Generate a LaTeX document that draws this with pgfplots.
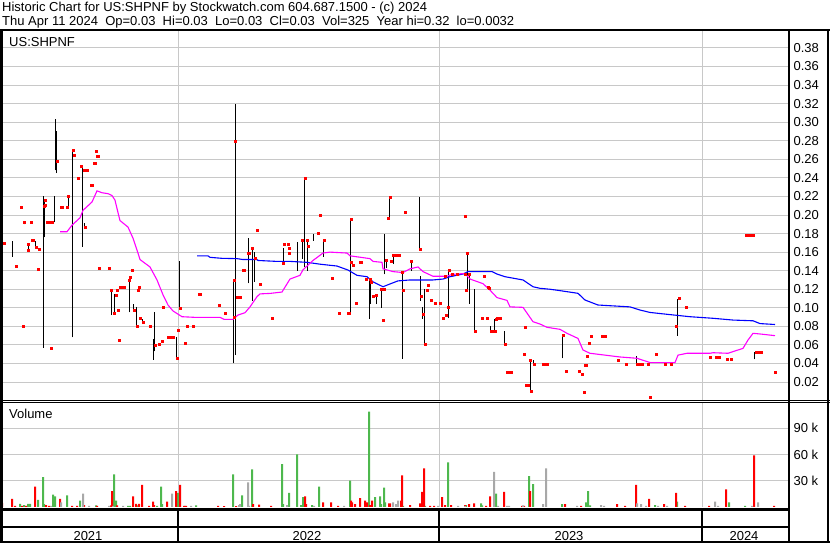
\documentclass[border=0pt]{standalone}
\usepackage{pgfplots}
\pgfplotsset{compat=1.18}
\usepackage{fontspec}
\setmainfont{Liberation Sans}
\definecolor{gridgray}{RGB}{200,200,200}
\definecolor{volgreen}{RGB}{78,184,78}
\definecolor{volgray}{RGB}{168,168,168}
\definecolor{mablue}{RGB}{0,0,255}
\definecolor{mamag}{RGB}{255,0,255}
\begin{document}
\begin{tikzpicture}
\useasboundingbox (0pt,0pt) rectangle (830pt,-543pt);
\pgfplotsset{
  swbase/.style={
    scale only axis, anchor=south west,
    xmin=3, xmax=789,
    axis line style={draw=none},
    tick style={draw=none},
    major tick length=0pt,
    xtick={178,439,702}, xticklabels={},
    grid=major, grid style={color=gridgray, line width=1pt},
    yticklabel pos=right,
    yticklabel style={font=\fontsize{13}{13}\selectfont, anchor=west, xshift=1pt},
    clip=true,
  }
}
% ---------------- price panel ----------------
\begin{axis}[swbase, at={(3pt,-400.6pt)}, width=786pt, height=371.2pt,
  ymin=0, ymax=0.40,
  ytick={0.02,0.04,0.06,0.08,0.10,0.12,0.14,0.16,0.18,0.20,0.22,0.24,0.26,0.28,0.30,0.32,0.34,0.36,0.38},
  yticklabels={0.02,0.04,0.06,0.08,0.10,0.12,0.14,0.16,0.18,0.20,0.22,0.24,0.26,0.28,0.30,0.32,0.34,0.36,0.38}]
% high-low bars
\addplot[black, line width=1pt, unbounded coords=jump] coordinates {
(12,0.155) (12,0.172) (12,nan)
(24,0.190) (24,0.194) (24,nan)
(28,0.162) (28,0.168) (28,nan)
(35,0.164) (35,0.172) (35,nan)
(43,0.057) (43,0.220) (43,nan)
(44,0.176) (44,0.216) (44,nan)
(54,0.192) (54,0.220) (54,nan)
(55,0.248) (55,0.303) (55,nan)
(56,0.245) (56,0.290) (56,nan)
(68,0.208) (68,0.220) (68,nan)
(72,0.068) (72,0.270) (72,nan)
(82,0.166) (82,0.253) (82,nan)
(84,0.187) (84,0.191) (84,nan)
(111,0.092) (111,0.117) (111,nan)
(114,0.094) (114,0.115) (114,nan)
(129,0.095) (129,0.130) (129,nan)
(133,0.0966) (133,0.104) (133,nan)
(136,0.080) (136,0.1005) (136,nan)
(142,0.085) (142,0.088) (142,nan)
(153,0.044) (153,0.066) (153,nan)
(154,0.053) (154,0.095) (154,nan)
(176,0.045) (176,0.069) (176,nan)
(179,0.0976) (179,0.150) (179,nan)
(233,0.040) (233,0.129) (233,nan)
(235,0.049) (235,0.320) (235,nan)
(248,0.1264) (248,0.1755) (248,nan)
(252,0.1077) (252,0.164) (252,nan)
(254,0.128) (254,0.160) (254,nan)
(283,0.148) (283,0.164) (283,nan)
(297,0.140) (297,0.1706) (297,nan)
(302,0.153) (302,0.172) (302,nan)
(304,0.144) (304,0.239) (304,nan)
(307,0.140) (307,0.172) (307,nan)
(313,0.172) (313,0.180) (313,nan)
(323,0.155) (323,0.172) (323,nan)
(350,0.0937) (350,0.195) (350,nan)
(369,0.088) (369,0.131) (369,nan)
(370,0.104) (370,0.131) (370,nan)
(376,0.104) (376,0.114) (376,nan)
(381,0.100) (381,0.120) (381,nan)
(384,0.136) (384,0.180) (384,nan)
(386,0.1426) (386,0.1515) (386,nan)
(389,0.196) (389,0.219) (389,nan)
(393,0.147) (393,0.156) (393,nan)
(402,0.045) (402,0.140) (402,nan)
(411,0.140) (411,0.150) (411,nan)
(419,0.163) (419,0.219) (419,nan)
(420,0.1077) (420,0.134) (420,nan)
(422,0.088) (422,0.101) (422,nan)
(424,0.060) (424,0.120) (424,nan)
(427,0.124) (427,0.126) (427,nan)
(448,0.089) (448,0.140) (448,nan)
(467,0.119) (467,0.158) (467,nan)
(469,0.1044) (469,0.136) (469,nan)
(474,0.074) (474,0.120) (474,nan)
(490,0.074) (490,0.080) (490,nan)
(494,0.074) (494,0.088) (494,nan)
(504,0.060) (504,0.075) (504,nan)
(530,0.0103) (530,0.0437) (530,nan)
(533,0.039) (533,0.044) (533,nan)
(562,0.0456) (562,0.070) (562,nan)
(636,0.039) (636,0.048) (636,nan)
(677,0.070) (677,0.110) (677,nan)
(754,0.0445) (754,0.052) (754,nan)
};
% 200-day style average (blue)
\addplot[mablue, line width=1.1pt, mark=none] coordinates {
(197,0.156) (208,0.156) (210,0.1544) (222,0.1533) (237,0.153) (243,0.152) (257,0.152)
(258,0.151) (277,0.150) (290,0.150) (307,0.149) (320,0.147) (337,0.145) (348,0.1407)
(357,0.135) (367,0.1335) (373,0.128) (383,0.1227) (390,0.1257) (398,0.129) (410,0.130)
(433,0.130) (443,0.131) (450,0.1335) (463,0.1364) (468,0.139) (492,0.139) (497,0.1364)
(505,0.1335) (523,0.130) (533,0.1227) (540,0.121) (550,0.120) (560,0.1185) (578,0.1156)
(585,0.1084) (598,0.103) (630,0.101) (640,0.0976) (650,0.095) (667,0.093) (690,0.0904)
(713,0.0887) (733,0.0868) (753,0.086) (760,0.083) (775,0.082)
};
% shorter average (magenta)
\addplot[mamag, line width=1.1pt, mark=none] coordinates {
(60,0.182) (67,0.182) (72,0.189) (80,0.197) (83,0.205) (92,0.214) (97,0.226) (102,0.224)
(108,0.223) (112,0.221) (115,0.216) (117,0.207) (120,0.194) (128,0.187) (133,0.175)
(138,0.159) (140,0.152) (150,0.144) (157,0.130) (163,0.114) (168,0.103) (173,0.0966)
(182,0.0904) (195,0.0897) (220,0.0897) (224,0.0876) (233,0.0876) (238,0.0922) (245,0.0947)
(250,0.101) (257,0.112) (260,0.115) (270,0.1155) (282,0.117) (290,0.131) (300,0.135)
(303,0.141) (313,0.151) (323,0.159) (330,0.160) (347,0.159) (350,0.156) (370,0.153)
(373,0.150) (382,0.149) (383,0.142) (393,0.139) (403,0.138) (410,0.142) (418,0.144)
(423,0.139) (433,0.134) (447,0.134) (452,0.136) (465,0.137) (470,0.131) (483,0.126)
(490,0.119) (497,0.111) (507,0.108) (510,0.101) (523,0.1005) (533,0.085) (540,0.0825)
(547,0.079) (560,0.0768) (567,0.0725) (578,0.067) (583,0.0545) (590,0.051) (620,0.047)
(637,0.0456) (650,0.041) (675,0.041) (678,0.049) (687,0.051) (710,0.051) (713,0.0516)
(728,0.051) (743,0.0563) (748,0.0653) (753,0.0725) (760,0.0718) (775,0.070)
};
% closing prices (red squares)
\addplot[red, only marks, mark=square*, mark size=1pt, mark options={solid, fill=red, draw=red, line width=0pt}] coordinates {
(2,0.186) (3,0.169) (4,0.169) (16,0.145) (21,0.208) (23,0.080) (24,0.192) (28,0.168)
(28,0.162) (31,0.192) (32,0.172) (33,0.172) (36,0.165) (38,0.141) (39,0.163) (44,0.209)
(45,0.216) (45,0.210) (47,0.192) (50,0.192) (52,0.192) (51,0.056) (57,0.258) (61,0.208)
(62,0.208) (67,0.208) (68,0.220) (73,0.270) (74,0.264) (78,0.239) (81,0.252) (84,0.248)
(87,0.248) (85,0.187) (91,0.232) (92,0.232) (94,0.255) (95,0.255) (96,0.268) (97,0.263)
(98,0.263) (99,0.142) (109,0.142) (111,0.119) (116,0.113) (114,0.094) (117,0.119)
(118,0.097) (119,0.0645) (120,0.122) (121,0.122) (124,0.122) (129,0.129) (130,0.133)
(132,0.140) (134,0.0966) (137,0.080) (138,0.119) (139,0.122) (140,0.088) (143,0.084)
(150,0.080) (155,0.059) (159,0.060) (162,0.0635) (163,0.100) (168,0.068) (170,0.068)
(172,0.068) (173,0.068) (177,0.045) (178,0.076) (180,0.099) (185,0.061) (187,0.080)
(193,0.080) (199,0.114) (200,0.114) (219,0.103) (225,0.0937) (234,0.090) (234,0.129)
(235,0.279) (237,0.111) (240,0.111) (243,0.140) (244,0.140) (248,0.158) (249,0.158)
(252,0.164) (255,0.153) (257,0.183) (260,0.1246) (272,0.088) (283,0.148) (284,0.168)
(288,0.168) (289,0.164) (289,0.159) (302,0.172) (305,0.239) (307,0.172) (308,0.166)
(318,0.180) (320,0.199) (324,0.172) (332,0.132) (339,0.0937) (348,0.0937) (349,0.0937)
(351,0.195) (351,0.1486) (353,0.146) (356,0.1044) (360,0.1486) (361,0.1486) (366,0.130)
(370,0.131) (371,0.127) (373,0.112) (376,0.113) (381,0.1195) (383,0.1195) (384,0.1195)
(383,0.086) (386,0.1515) (390,0.219) (388,0.196) (391,0.150) (393,0.156) (395,0.156)
(396,0.156) (399,0.156) (402,0.138) (403,0.119) (405,0.203) (411,0.150) (420,0.163)
(421,0.112) (423,0.0926) (425,0.060) (427,0.119) (428,0.124) (431,0.1077) (435,0.1044)
(440,0.1044) (443,0.088) (445,0.134) (446,0.092) (448,0.100) (449,0.140) (452,0.1357)
(457,0.1357) (465,0.1357) (465,0.198) (466,0.119) (467,0.158) (469,0.136) (475,0.074)
(484,0.1335) (488,0.122) (489,0.121) (482,0.088) (487,0.088) (491,0.074) (492,0.074)
(493,0.074) (495,0.074) (496,0.087) (497,0.088) (500,0.088) (505,0.060) (507,0.030)
(509,0.030) (511,0.030) (524,0.050) (525,0.079) (526,0.016) (528,0.016) (530,0.0437)
(531,0.0103) (534,0.039) (543,0.039) (545,0.039) (547,0.039) (563,0.070) (566,0.031)
(579,0.031) (582,0.028) (584,0.0085) (585,0.038) (586,0.038) (587,0.048) (589,0.061)
(591,0.069) (602,0.069) (605,0.069) (618,0.0437) (626,0.039) (637,0.039) (639,0.039)
(642,0.039) (648,0.039) (650,0.003) (656,0.050) (665,0.039) (671,0.039) (676,0.080)
(679,0.110) (686,0.100) (710,0.046) (716,0.046) (719,0.046) (727,0.0445) (731,0.0445)
(746,0.178) (748,0.178) (750,0.178) (753,0.178) (756,0.0516) (758,0.0516) (761,0.0516)
(775,0.030)
};
\end{axis}
% ---------------- volume panel ----------------
\begin{axis}[swbase, at={(3pt,-506.8pt)}, width=786pt, height=104.8pt,
  ymin=0, ymax=120,
  ytick={30,60,90}, yticklabels={30 k,60 k,90 k}]
\addplot[ybar, bar width=2pt, bar shift=0pt, fill=volgreen, draw=none] coordinates {
(20,3.4) (24,2) (28,3.4) (30,3.4) (38,8) (43,34) (44,3) (53,14) (55,12) (67,13) (80,7)
(96,1.5) (114,37) (116,7) (128,1) (130,1) (137,1.5) (157,1) (161,23) (162,3) (178,16)
(185,1) (196,1.5) (233,37) (242,13) (252,43) (282,49) (283,3) (289,16) (297,60) (301,2)
(303,11) (312,2) (319,23) (350,30) (369,109) (375,11) (380,12) (381,3) (384,22) (385,5)
(401,1) (403,1) (425,1) (448,51) (466,2) (481,4) (482,1.5) (496,15) (529,35) (533,26)
(562,3) (586,5) (588,18) (590,1.5) (655,2) (677,6) (729,5) (745,1)
};
\addplot[ybar, bar width=2pt, bar shift=0pt, fill=red, draw=none] coordinates {
(2,4.6) (12,9) (15,1) (22,1) (26,1) (35,23) (46,2) (49,1) (60,9) (72,1) (77,1) (84,2)
(97,1) (111,1.5) (112,18) (117,1.5) (133,12) (136,3.4) (139,3.4) (142,25) (149,1) (153,6)
(154,2) (167,6) (176,18) (180,25) (184,1) (186,1) (218,1) (224,0.7) (236,0.7) (253,3)
(259,2.5) (271,1) (305,12) (306,3) (323,5) (331,5) (338,1) (351,7) (352,5) (355,3)
(360,10) (365,7) (367,5) (370,2) (372,7) (389,4) (390,4) (401,7) (402,36) (410,2) (420,4)
(422,17) (424,44) (430,1) (434,1) (442,11) (445,2) (451,2) (465,2) (469,3) (474,4)
(486,1) (490,12) (504,17) (522,1) (524,1) (530,18) (565,3) (581,1) (617,3) (625,1)
(636,25) (649,9) (664,3) (676,16) (685,1) (709,1) (726,20) (754,59) (774,1)
};
\addplot[ybar, bar width=2pt, bar shift=0pt, fill=volgray, draw=none] coordinates {
(51,1) (61,5) (83,15) (89,1) (109,1) (113,1) (123,1) (172,15) (191,1) (239,2) (240,3)
(248,28) (249,1) (287,2) (314,1) (344,1) (393,5) (396,3) (398,7) (438,1) (458,1) (465,1)
(494,40) (498,1) (507,1) (509,1) (523,1.5) (543,3) (546,44) (577,1) (601,2) (604,1)
(637,4) (641,3) (646,1) (658,1) (667,1) (715,6) (718,1) (752,1) (758,5)
};
\end{axis}
% ---------------- frame and labels ----------------
\fill[black] (0pt,-29.5pt) rectangle (3pt,-543pt);
\draw[line width=2pt] (0pt,-30.5pt) -- (830pt,-30.5pt);
\draw[line width=1.2pt] (0pt,-400.4pt) -- (830pt,-400.4pt);
\draw[line width=1.2pt] (0pt,-402.6pt) -- (830pt,-402.6pt);
\draw[line width=2pt] (789pt,-29.5pt) -- (789pt,-543pt);
\draw[line width=2pt] (828pt,-29.5pt) -- (828pt,-543pt);
\draw[line width=2.5pt] (0pt,-509.3pt) -- (789pt,-509.3pt);
\draw[line width=2pt] (0pt,-527pt) -- (789pt,-527pt);
\draw[line width=2pt] (0pt,-542pt) -- (830pt,-542pt);
\foreach \xx in {178,439,702} {\draw[line width=1.3pt] (\xx pt,-509pt) -- (\xx pt,-542pt);}
\node[anchor=base, font=\fontsize{13}{13}\selectfont] at (88pt,-540pt) {2021};
\node[anchor=base, font=\fontsize{13}{13}\selectfont] at (307pt,-540pt) {2022};
\node[anchor=base, font=\fontsize{13}{13}\selectfont] at (569pt,-540pt) {2023};
\node[anchor=base, font=\fontsize{13}{13}\selectfont] at (744pt,-540pt) {2024};
\node[anchor=base west, inner sep=0pt, font=\fontsize{13}{13}\selectfont] at (9pt,-47pt) {US:SHPNF};
\node[anchor=base west, inner sep=0pt, font=\fontsize{13}{13}\selectfont] at (9pt,-418pt) {Volume};
\node[anchor=base west, inner sep=0pt, font=\fontsize{13}{13}\selectfont] at (2pt,-12pt) {Historic Chart for US:SHPNF by Stockwatch.com 604.687.1500 - (c) 2024};
\node[anchor=base west, inner sep=0pt, font=\fontsize{13}{13}\selectfont] at (2pt,-26pt) {Thu Apr 11 2024\ \ Op=0.03\ \ Hi=0.03\ \ Lo=0.03\ \ Cl=0.03\ \ Vol=325\ \ Year hi=0.32\ \ lo=0.0032};
\end{tikzpicture}
\end{document}
